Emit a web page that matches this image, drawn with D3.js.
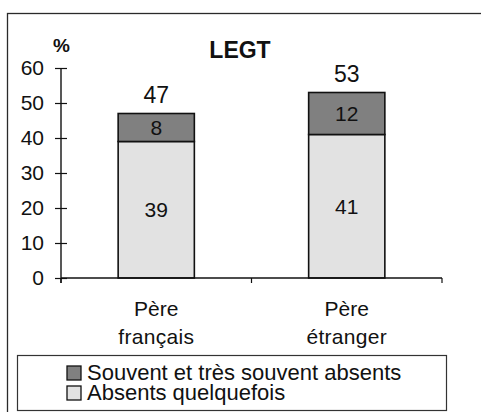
<!DOCTYPE html>
<html>
<head>
<meta charset="utf-8">
<script src="https://cdn.jsdelivr.net/npm/d3@7/dist/d3.min.js"></script>
<style>
  html, body { margin: 0; padding: 0; background: #fff; }
  svg { display: block; font-family: "Liberation Sans", Arial, sans-serif; }
</style>
</head>
<body>
<svg id="chart" width="481" height="412"></svg>
<script>
// Stacked shares by father's origin (LEGT), in %
const categories = ["Père français", "Père étranger"];
const categoryLines = [["Père", "français"], ["Père", "étranger"]];
const seriesNames = ["Absents quelquefois", "Souvent et très souvent absents"];
const absentsQuelquefois = [39, 41];
const souventAbsents = [8, 12];
const totals = [47, 53];
const yTicks = [0, 10, 20, 30, 40, 50, 60];
const title = "LEGT";
const unit = "%";

const colors = { "Absents quelquefois": "#e2e2e2", "Souvent et très souvent absents": "#808080" };

const svg = d3.select("#chart");

// outer frame (runs off the right and bottom edges)
svg.append("rect")
  .attr("x", 7.5).attr("y", 13.5)
  .attr("width", 490).attr("height", 420)
  .attr("fill", "none").attr("stroke", "#2a2a2a").attr("stroke-width", 1.3);

const plot = { left: 61, right: 442, top: 68, bottom: 278 };

const x = d3.scaleBand().domain(categories).range([plot.left, plot.right]).padding(0);
const y = d3.scaleLinear().domain([0, 60]).range([plot.bottom, plot.top]);
const barW = x.bandwidth() * 0.4;

// stacked data
const rows = categories.map((c, i) => ({
  cat: c,
  "Absents quelquefois": absentsQuelquefois[i],
  "Souvent et très souvent absents": souventAbsents[i]
}));
const stack = d3.stack().keys(seriesNames)(rows);

const g = svg.append("g");

stack.forEach(layer => {
  g.selectAll(null).data(layer).enter().append("rect")
    .attr("x", d => x(d.data.cat) + (x.bandwidth() - barW) / 2)
    .attr("y", d => y(d[1]))
    .attr("width", barW)
    .attr("height", d => y(d[0]) - y(d[1]))
    .attr("fill", colors[layer.key])
    .attr("stroke", "#111").attr("stroke-width", 1.6);

  g.selectAll(null).data(layer).enter().append("text")
    .attr("x", d => x(d.data.cat) + x.bandwidth() / 2)
    .attr("y", d => (y(d[0]) + y(d[1])) / 2)
    .attr("dy", "0.36em")
    .attr("text-anchor", "middle")
    .attr("font-size", 21)
    .attr("fill", "#111")
    .text(d => d[1] - d[0]);
});

// totals above bars
g.selectAll(null).data(categories).enter().append("text")
  .attr("x", d => x(d) + x.bandwidth() / 2)
  .attr("y", (d, i) => y(totals[i]) - 11)
  .attr("text-anchor", "middle")
  .attr("font-size", 23)
  .attr("fill", "#111")
  .text((d, i) => totals[i]);

// y axis
const yAxis = d3.axisLeft(y).tickValues(yTicks).tickSize(0).tickPadding(0);
const ya = svg.append("g").attr("transform", `translate(${plot.left},0)`).call(yAxis);
ya.select(".domain").remove();
ya.selectAll("text").attr("x", -17).attr("font-size", 21).attr("fill", "#111")
  .attr("font-family", "Liberation Sans, Arial, sans-serif");
ya.selectAll(".tick").append("line")
  .attr("x1", -6).attr("x2", 6).attr("stroke", "#111").attr("stroke-width", 1.2);
svg.append("line")
  .attr("x1", plot.left).attr("x2", plot.left)
  .attr("y1", y(60)).attr("y2", plot.bottom + 5)
  .attr("stroke", "#111").attr("stroke-width", 1.4);

// x axis with ticks at category boundaries
svg.append("line")
  .attr("x1", plot.left).attr("x2", plot.right)
  .attr("y1", plot.bottom).attr("y2", plot.bottom)
  .attr("stroke", "#111").attr("stroke-width", 1.4);
const bounds = categories.map(c => x(c)).concat([x(categories[categories.length - 1]) + x.bandwidth()]);
svg.selectAll(null).data(bounds).enter().append("line")
  .attr("x1", d => d).attr("x2", d => d)
  .attr("y1", plot.bottom).attr("y2", plot.bottom + 5)
  .attr("stroke", "#111").attr("stroke-width", 1.2);

// category labels (two lines)
categories.forEach((c, i) => {
  const t = svg.append("text")
    .attr("x", x(c) + x.bandwidth() / 2)
    .attr("text-anchor", "middle")
    .attr("font-size", 21)
    .attr("fill", "#111");
  categoryLines[i].forEach((ln, j) => {
    t.append("tspan")
      .attr("x", x(c) + x.bandwidth() / 2)
      .attr("y", 316 + j * 28)
      .attr("letter-spacing", j === 1 ? 0.3 : 0)
      .text(ln);
  });
});

// unit and title
svg.append("text").attr("x", 53).attr("y", 52)
  .attr("font-size", 19).attr("font-weight", "bold").attr("fill", "#111").text(unit);
svg.append("text").attr("x", 240).attr("y", 58)
  .attr("text-anchor", "middle")
  .attr("font-size", 23).attr("font-weight", "bold").attr("fill", "#111").text(title);

// legend
svg.append("rect")
  .attr("x", 17.5).attr("y", 355.5).attr("width", 429).attr("height", 55)
  .attr("fill", "#fff").attr("stroke", "#333").attr("stroke-width", 1.2);
const legendOrder = ["Souvent et très souvent absents", "Absents quelquefois"];
const lg = svg.append("g").selectAll(null).data(legendOrder).enter().append("g")
  .attr("transform", (d, i) => `translate(67,${366 + i * 20})`);
lg.append("rect").attr("width", 14).attr("height", 14)
  .attr("fill", d => colors[d]).attr("stroke", "#111").attr("stroke-width", 1.3);
lg.append("text").attr("x", 20).attr("y", 7).attr("dy", "0.34em")
  .attr("font-size", 22).attr("fill", "#111").text(d => d);
</script>
</body>
</html>
